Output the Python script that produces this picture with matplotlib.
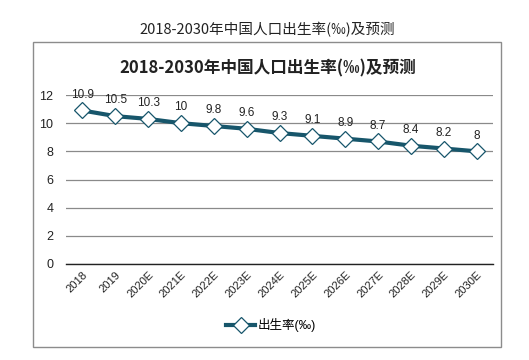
import matplotlib
matplotlib.use("Agg")
import matplotlib.pyplot as plt
from matplotlib.patches import Rectangle

plt.rcParams['font.family'] = ['Liberation Sans', 'Noto Sans CJK SC', 'DejaVu Sans']
cjk = ['Noto Sans CJK SC', 'DejaVu Sans']

categories = ['2018', '2019', '2020E', '2021E', '2022E', '2023E', '2024E',
              '2025E', '2026E', '2027E', '2028E', '2029E', '2030E']
values = [10.9, 10.5, 10.3, 10, 9.8, 9.6, 9.3, 9.1, 8.9, 8.7, 8.4, 8.2, 8]
value_labels = ['10.9', '10.5', '10.3', '10', '9.8', '9.6', '9.3', '9.1',
                '8.9', '8.7', '8.4', '8.2', '8']
series_name = '出生率(‰)'
title = '2018-2030年中国人口出生率(‰)及预测'

W, H = 529, 360
fig = plt.figure(figsize=(W / 100, H / 100), dpi=100)

# outer chart frame
fig.patches.append(Rectangle((33 / W, 1 - 347 / H), (501 - 33) / W, (347 - 42) / H,
                             transform=fig.transFigure, fill=False,
                             edgecolor='#8c8c8c', linewidth=1.0))

fig.text(267 / W, 1 - 30 / H, title, ha='center', va='center', fontsize=10.5,
         color='#222222', family=cjk)
fig.text(268 / W, 1 - 68 / H, title, ha='center', va='center', fontsize=12,
         fontweight='bold', color='#222222', family=cjk)

ax = fig.add_axes([66 / W, 1 - 264 / H, (493 - 66) / W, (264 - 95) / H])
x = list(range(len(categories)))
line_color = '#17566b'
ax.plot(x, values, color=line_color, linewidth=3, marker='D', markersize=8,
        markerfacecolor='white', markeredgecolor=line_color, markeredgewidth=0.9,
        label=series_name, zorder=3)
for xi, v, lab in zip(x, values, value_labels):
    ax.annotate(lab, (xi, v), xytext=(0, 7), textcoords='offset points',
                ha='center', va='bottom', fontsize=8.5, color='#222222')

ax.set_xlim(-0.5, len(categories) - 0.5)
ax.set_ylim(0, 12)
ax.set_yticks([0, 2, 4, 6, 8, 10, 12])
ax.set_xticks(x)
ax.set_xticklabels(categories, rotation=45, ha='right', rotation_mode='anchor', fontsize=8)
ax.tick_params(axis='both', length=0, colors='#222222')
ax.tick_params(axis='y', labelsize=9, pad=9)
ax.tick_params(axis='x', pad=4)
ax.grid(axis='y', color='#8a8a8a', linewidth=0.9)
ax.set_axisbelow(True)
for s in ['top', 'right', 'left']:
    ax.spines[s].set_visible(False)
ax.spines['bottom'].set_color('#222222')
ax.spines['bottom'].set_linewidth(1.0)

fig.legend(loc='center', bbox_to_anchor=(271 / W, 1 - 325 / H), frameon=False,
           fontsize=9, handlelength=2.3, handletextpad=0.2)

fig.savefig('out.png', dpi=100)
